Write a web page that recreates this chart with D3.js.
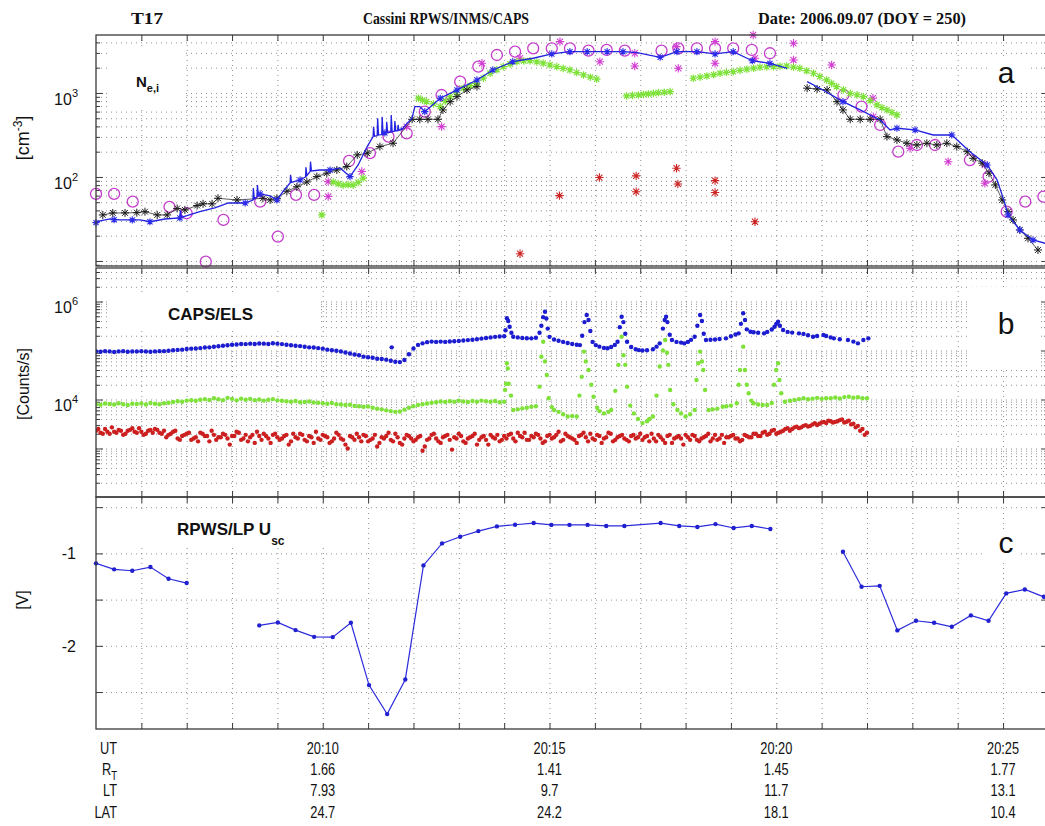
<!DOCTYPE html>
<html>
<head>
<meta charset="utf-8">
<script src="https://cdn.jsdelivr.net/npm/d3@7/dist/d3.min.js"></script>
<style>
html,body{margin:0;padding:0;background:#fff;}
svg{display:block;font-family:"Liberation Sans",Arial,Helvetica,sans-serif;}
.grid line{stroke:#858585;stroke-width:0.9;stroke-dasharray:1,4;}
.grid path,.tk path{display:none;}
.tk line{stroke:#3a3a3a;stroke-width:1;}
</style>
</head>
<body>
<svg id="chart" width="1045" height="826"></svg>
<script>
// ================= DATA (time = minutes after 20:00 UT) =================
const utTickMinutes = [10, 15, 20, 25];
const utLabels  = ["20:10", "20:15", "20:20", "20:25"];
const rtLabels  = ["1.66", "1.41", "1.45", "1.77"];
const ltLabels  = ["7.93", "9.7", "11.7", "13.1"];
const latLabels = ["24.7", "24.2", "18.1", "10.4"];
const minuteTicks = [6,7,8,9,10,11,12,13,14,15,16,17,18,19,20,21,22,23,24,25];

// panel a : densities [cm^-3]
const densityLabelTicks = [100, 1000];
const rpwsLine = [[5.00,28.6],[5.09,30.0],[5.31,31.6],[5.53,30.8],[5.75,30.8],[5.97,30.8],[6.19,29.3],[6.52,31.6],[6.85,32.5],[6.86,40],[6.88,33],
 [7.29,38.6],[7.62,42.8],[7.92,49.0],[8.29,49.0],[8.46,53.2],[8.47,74],[8.49,55],[8.55,58],[8.56,80],[8.58,60],[8.62,62.8],[8.84,59.4],[8.99,53.2],
 [9.15,70],[9.28,84.7],[9.29,106],[9.31,86],[9.50,92.1],[9.62,100],[9.63,130],[9.65,104],[9.72,116],[9.73,152],[9.75,118],[9.94,121],[10.16,121],
 [10.38,128],[10.60,101],[10.78,139],[10.98,230],[11.11,302],[11.12,397],[11.14,305],[11.20,310],[11.21,500],[11.23,315],[11.30,320],[11.31,522],
 [11.33,325],[11.37,334],[11.40,335],[11.41,455],[11.43,338],[11.50,342],[11.51,547],[11.53,345],[11.58,350],[11.59,462],[11.61,352],[11.65,355],
 [11.66,416],[11.68,358],[11.72,363],[11.73,380],[11.75,368],[11.81,405],[11.97,504],[12.03,687],[12.14,687],[12.25,599],[12.59,865],[12.96,1086],
 [13.40,1428],[13.75,1878],[14.19,2357],[14.64,2590],[15.05,2914],[15.45,3100],[15.83,3100],[16.27,3100],[16.62,3100],[16.93,3020],[17.44,2660],
 [17.81,3100],[18.10,3100],[18.25,3100],[18.65,2914],[19.05,3100],[19.47,2420],[19.86,2250],[20.24,1965],null,
 [20.68,1364],[20.96,1137],[21.47,788],[21.85,628],[22.29,477],[22.51,363],[22.66,380],[23.06,363],[23.46,316],[23.87,316],[24.27,200],[24.65,139],
 [24.87,92.1],[25.04,48.5],[25.11,35.3],[25.37,23.4],[25.66,17.8],[25.93,16.2]];
const rpwsMarkers = [[5.00,28.6],[5.40,31],[5.80,30.8],[6.19,29.3],[6.85,32.5],[8.29,49],[8.62,62.8],[8.99,53.2],[9.50,92.1],[10.16,121],[10.60,101],
 [11.37,334],[12.25,599],[12.59,865],[12.96,1086],[13.40,1428],[13.75,1878],[14.19,2357],[15.05,2914],[15.45,3100],[15.83,3100],[16.27,3100],
 [16.62,3100],[17.44,2660],[17.81,3100],[18.25,3100],[18.65,2914],[19.05,3100],[19.47,2420],[19.86,2250],[21.47,788],[22.66,380],[23.06,363],
 [23.87,316],[24.65,139],[25.11,35.3],[25.37,23.4],[25.66,17.8]];
const blackSeries = [[5.15,35.3],[5.37,37.3],[5.64,37.3],[5.90,37.6],[6.08,38.6],[6.35,35.3],[6.57,35.3],[6.79,42.2],[6.96,40.5],[7.23,45.7],[7.36,47.9],
 [7.56,47.9],[7.69,55.7],[8.11,53.2],[8.68,55.7],[8.84,53.2],[8.99,55.7],[9.21,67.5],[9.43,76.5],[9.65,87.2],[9.87,101],[10.09,111],[10.31,121],
 [10.53,133],[10.76,183],[10.98,192],[11.26,230],[11.55,252],[11.97,486],[12.14,486],[12.32,486],[12.54,486],[12.65,628],[12.81,788],[12.96,904],
 [13.18,1086],[13.40,1190],null,
 [20.68,1140],[20.90,1116],[21.12,1086],[21.34,788],[21.47,628],[21.63,486],[21.85,486],[22.07,486],[22.29,486],[22.44,302],[22.66,276],[22.88,252],
 [23.10,240],[23.32,252],[23.54,240],[23.76,252],[23.98,230],[24.21,200],[24.34,167],[24.54,146],[24.69,111],[24.83,80.4],[24.98,53.2],[25.11,38.6],
 [25.22,30.8],[25.37,23.4],[25.55,18.6],[25.77,13.5]];
const magentaCircles = [[5.00,62.8],[5.40,62.8],[5.81,50.8],[6.62,44.0],[7.00,37.0],[7.42,9.8],[7.81,30.8],[8.62,50.8],[9.01,19.5],[9.41,61.1],[9.81,61.1],
 [10.58,155],[11.04,192],[11.45,302],[11.85,331],[12.25,599],[12.62,946],[13.03,1363],[13.43,2060],[13.84,2830],[14.24,3100],[14.64,3400],[15.05,3400],
 [15.45,3400],[15.86,3190],[16.26,3250],[16.66,3190],[17.47,3190],[17.84,3400],[18.25,3400],[18.65,3400],[19.05,3400],[19.46,3250],[19.86,2970],
 [21.48,946],[21.88,687],[22.29,416],[22.69,200],[23.10,240],[23.50,240],[24.27,159],[24.68,101],[25.08,38.6],[25.49,50.8],[25.89,58.3]];
const magentaStars = [[10.12,88],[10.12,58.5],[10.86,116],[11.85,397],[12.62,397],[13.51,2260],[14.35,2590],[15.23,4080],[16.11,2357],[16.88,2970],
 [16.88,2095],[17.80,3560],[17.84,1965],[18.65,4080],[18.65,2260],[19.49,4900],[19.53,2590],[20.38,3900],[20.38,2470],[21.22,2150],[22.13,865],
 [22.14,522],[22.95,220],[23.79,152],[24.60,139],[24.60,84]];
const greenStars = [[9.98,35.3],[10.23,87],[10.34,83],[10.45,80],[10.56,81],[10.67,80],[10.78,86],[10.89,97],
 [12.11,865],[12.20,820],[12.29,788],[12.44,740],[12.59,687],[12.70,800],[12.81,904],[12.95,1010],[13.10,1137],[13.25,1220],[13.39,1304],[13.54,1500],
 [13.69,1716],[13.84,1890],[13.98,2060],[14.13,2210],[14.28,2357],[14.43,2400],[14.57,2420],[14.72,2340],[14.86,2260],[15.01,2150],[15.16,2060],
 [15.30,1960],[15.45,1878],[15.60,1750],[15.75,1638],[15.90,1540],[16.04,1460],
 [16.70,921],[16.83,935],[16.96,946],[17.07,960],[17.18,973],[17.29,990],[17.40,1010],[17.53,1020],[17.66,1036],
 [18.17,1496],[18.32,1545],[18.47,1593],[18.62,1650],[18.76,1716],[18.90,1755],[19.05,1795],[19.20,1855],[19.35,1917],[19.50,1970],[19.64,2024],
 [19.79,2040],[19.94,2060],[20.08,2080],[20.23,2095],[20.38,2030],[20.52,1965],[20.67,1840],[20.82,1716],[20.96,1570],[21.11,1428],[21.22,1300],
 [21.33,1190],[21.48,1090],[21.63,991],[21.78,950],[21.92,904],[22.07,810],[22.22,720],[22.33,670],[22.44,628],[22.55,585],[22.66,547]];
const redStars = [[14.35,12.2],[15.22,59.9],[16.10,98.4],[16.91,103],[16.91,66.8],[17.80,127],[17.83,82.6],[18.65,90.4],[18.65,65.3],[19.53,29.3]];

// panel b : CAPS/ELS counts/s (values in thousands)
const countLabelTicks = [1e4, 1e6];
const elsBlue = [[5.0,96],[5.1,94],[5.2,97],[5.3,96],[5.4,93],[5.5,96],[5.6,97],[5.7,94],[5.8,96],[5.9,96],[6.0,97],[6.1,96],[6.2,94],[6.3,96],[6.4,97],
 [6.5,97],[6.6,99],[6.7,101],[6.8,103],[6.9,104],[7.0,107],[7.1,109],[7.2,110],[7.3,112],[7.4,115],[7.5,116],[7.6,119],[7.7,122],[7.8,125],[7.9,128],
 [8.0,131],[8.1,133],[8.2,136],[8.3,135],[8.4,138],[8.5,136],[8.6,139],[8.7,138],[8.8,136],[8.9,141],[9.0,138],[9.1,135],[9.2,131],[9.3,128],[9.4,125],
 [9.5,123],[9.6,119],[9.7,116],[9.8,115],[9.9,112],[10.0,109],[10.1,104],[10.2,101],[10.3,99],[10.4,96],[10.5,91],[10.6,87],[10.7,83],[10.8,80],
 [10.9,75],[11.0,73],[11.1,71],[11.2,68],[11.3,67],[11.4,65],[11.5,62],[11.52,116],[11.6,59],[11.7,58],[11.8,64],[11.9,84],[12.0,110],[12.1,130],
 [12.2,140],[12.3,148],[12.4,152],[12.5,150],[12.6,152],[12.7,150],[12.8,153],[12.9,155],[13.0,157],[13.1,160],[13.2,163],[13.3,166],[13.4,170],
 [13.5,175],[13.6,180],[13.7,185],[13.8,190],[13.9,193],[14.0,196],[14.03,260],[14.06,454],[14.09,400],[14.12,306],[14.16,230],[14.2,191],[14.3,185],
 [14.4,180],[14.5,178],[14.6,177],
 [14.7,182],[14.78,230],[14.82,320],[14.86,480],[14.90,619],[14.93,450],[14.96,280],[15.0,190],[15.1,168],[15.2,158],[15.3,150],[15.4,142],[15.5,136],
 [15.6,131],[15.67,129],[15.72,200],[15.77,380],[15.82,530],[15.86,420],[15.9,250],[15.95,150],[16.02,129],[16.1,120],[16.2,113],[16.28,111],
 [16.36,118],[16.44,130],[16.5,151],[16.55,300],[16.59,489],[16.63,380],[16.67,220],[16.71,151],[16.8,118],[16.9,106],[16.97,102],[17.05,100],
 [17.15,101],[17.28,106],[17.36,120],[17.43,140],[17.5,280],[17.54,420],[17.57,489],[17.6,380],[17.65,210],[17.7,164],[17.8,150],[17.9,145],
 [17.97,140],[18.05,150],[18.12,165],[18.2,191],[18.26,320],[18.32,530],[18.36,400],[18.4,220],[18.45,164],[18.55,166],[18.65,168],[18.75,172],
 [18.89,177],[19.0,195],[19.1,212],[19.17,224],[19.22,350],[19.27,574],[19.31,420],[19.35,270],[19.43,242],[19.5,236],[19.6,230],[19.73,224],
 [19.8,240],[19.9,268],[19.96,306],[20.0,350],[20.04,387],[20.08,320],[20.15,262],[20.25,240],[20.35,232],[20.5,224],[20.6,218],[20.7,205],
 [20.81,191],[20.9,198],[21.04,207],[21.1,198],[21.2,185],[21.27,177],[21.4,170],[21.58,164],[21.7,152],[21.8,140],[21.92,164],[22.03,177]];
const elsGreen = [[5.0,8.0],[5.1,7.8],[5.2,8.3],[5.3,8.1],[5.4,7.9],[5.5,8.4],[5.6,8.0],[5.7,7.7],[5.8,8.2],[5.9,8.1],[6.0,8.3],[6.1,7.9],[6.2,8.5],
 [6.3,8.2],[6.4,8.0],[6.5,8.4],[6.6,8.6],[6.7,8.9],[6.8,9.2],[6.9,9.0],[7.0,9.5],[7.1,9.7],[7.2,9.4],[7.3,9.9],[7.4,10.2],[7.5,9.8],[7.6,10.6],
 [7.7,10.1],[7.8,9.7],[7.9,10.8],[8.0,10.3],[8.1,9.6],[8.2,10.4],[8.3,9.9],[8.4,10.3],[8.5,9.7],[8.6,10.0],[8.7,9.5],[8.8,9.9],[8.9,10.2],[9.0,9.6],
 [9.1,9.4],[9.2,9.2],[9.3,9.0],[9.4,9.3],[9.5,8.8],[9.6,8.9],[9.7,9.1],[9.8,8.7],[9.9,8.6],[10.0,8.4],[10.1,8.2],[10.2,8.5],[10.3,8.0],[10.4,7.9],
 [10.5,7.7],[10.6,7.8],[10.7,7.4],[10.8,7.3],[10.9,7.1],[11.0,7.2],[11.1,6.8],[11.2,6.5],[11.3,6.3],[11.4,6.0],[11.5,5.8],[11.6,5.6],[11.7,5.7],
 [11.8,6.2],[11.9,6.8],[12.0,7.3],[12.1,7.7],[12.2,8.0],[12.3,8.3],[12.4,8.6],[12.5,8.8],[12.6,9.1],[12.7,8.9],[12.8,9.2],[12.9,9.0],[13.0,9.4],
 [13.1,9.1],[13.2,8.9],[13.3,9.3],[13.4,9.0],[13.5,9.5],[13.6,9.2],[13.7,9.0],[13.8,9.3],[13.9,8.8],[14.0,9.0],
 [14.02,15.6],[14.04,21],[14.06,55],[14.08,43],[14.10,21],[14.15,12],[14.2,6.1],[14.3,6.3],[14.4,6.6],[14.5,6.8],[14.6,7.1],[14.7,7.3],[14.78,18.3],
 [14.82,75],[14.86,151],[14.90,60],[14.94,31.6],[14.98,10.6],[15.05,7.0],[15.1,6.1],[15.2,5.6],[15.3,5.0],[15.4,4.5],[15.5,4.6],[15.6,4.5],[15.66,12],
 [15.71,29],[15.76,95],[15.80,60],[15.86,40],[15.92,20],[15.97,11.4],[16.05,6.8],[16.1,5.8],[16.2,5.2],[16.3,5.6],[16.36,6.1],[16.45,15],[16.52,51],
 [16.59,191],[16.63,80],[16.67,51],[16.71,18.3],[16.78,7.5],[16.86,5.2],[16.95,4.0],[17.05,3.3],[17.15,3.6],[17.2,4.0],[17.28,4.5],[17.36,12],
 [17.43,47],[17.5,100],[17.55,164],[17.59,90],[17.62,51],[17.66,15.6],[17.73,8.0],[17.82,6.1],[17.9,5.2],[18.0,4.5],[18.1,5.0],[18.2,6.1],
 [18.24,25],[18.28,55],[18.32,95],[18.36,60],[18.39,40],[18.43,15.6],[18.51,6.1],[18.6,6.3],[18.7,6.5],[18.82,7.1],[18.9,7.3],[19.0,7.5],[19.13,8.4],
 [19.17,20],[19.2,40],[19.27,120],[19.31,40],[19.35,20],[19.39,13.4],[19.45,9.5],[19.5,8.4],[19.6,7.9],[19.7,7.7],[19.8,7.7],[19.9,8.5],[19.95,20],
 [20.0,40],[20.04,55],[20.07,25],[20.11,13.4],[20.19,9.0],[20.3,9.4],[20.4,9.8],[20.5,10.2],[20.6,10.6],[20.7,10.1],[20.8,10.4],[20.9,10.8],
 [21.0,10.3],[21.1,10.6],[21.2,10.6],[21.3,11.0],[21.4,10.5],[21.5,11.2],[21.6,11.4],[21.7,10.9],[21.8,11.1],[21.9,10.6],[22.0,10.6]];
// red channel: two interleaved sample sets, every 0.1 min starting 20:05.00 and 20:05.05
const elsRedStart = 5.0, elsRed2Start = 5.05, elsRedStep = 0.1;
const elsRed = [2.3,2.1,2.5,2.0,2.2,2.4,1.9,2.3,2.6,2.1,2.2,2.0,2.4,2.5,2.1,2.3,
 1.9,2.2,1.6,1.8,2.0,1.5,1.7,2.1,1.8,1.4,1.9,1.7,2.0,1.6,1.8,2.2,1.5,1.9,1.7,1.3,1.8,2.0,1.6,1.9,1.7,
 1.6,1.9,1.4,1.7,2.0,1.5,1.8,1.3,1.6,1.9,1.7,1.4,2.1,1.6,1.2,1.8,1.5,1.7,1.9,1.4,1.6,1.1,1.7,1.8,1.5,2.0,1.3,1.6,1.8,1.4,
 1.7,0.9,1.5,1.9,1.6,1.3,1.8,1.5,1.7,2.0,1.4,1.6,1.8,1.2,1.7,1.5,1.9,1.6,1.4,1.8,
 1.9,1.6,2.1,1.7,1.5,1.8,2.0,1.6,1.4,1.9,1.7,2.2,1.5,1.8,1.6,1.3,1.9,1.7,2.0,1.5,1.8,1.6,2.1,1.4,1.7,1.9,1.5,1.8,1.6,2.0,
 1.7,1.4,1.6,1.9,1.5,1.8,1.3,1.7,1.6,1.9,1.5,1.8,1.4,1.7,2.0,1.6,1.5,1.9,1.7,1.8,1.6,1.4,1.9,1.7,2.0,
 1.8,2.1,1.9,2.3,2.0,2.2,2.5,2.3,2.7,2.6,2.9,2.8,3.1,3.0,3.4,3.3,3.6,3.5,3.8,3.4,3.7,3.2,2.9,2.5,2.1];
const elsRed2 = [2.5,2.0,2.2,2.7,2.1,2.3,2.0,2.4,2.2,2.6,1.9,2.3,2.1,2.4,2.0,
 1.7,2.0,2.3,1.5,1.9,2.1,1.6,1.4,2.0,1.8,2.3,1.5,1.7,1.9,1.2,1.8,2.1,1.6,1.4,1.9,2.2,1.5,1.8,1.3,2.0,
 1.5,1.8,1.2,2.0,1.6,1.9,1.4,1.7,2.2,1.5,1.8,1.3,1.6,1.9,1.5,1.0,1.7,2.0,1.4,1.8,1.5,1.9,1.3,1.6,2.1,1.4,1.7,1.2,1.9,1.6,
 1.5,1.8,1.1,1.6,2.0,1.4,1.7,1.9,0.95,1.6,1.8,1.3,1.7,2.0,1.5,1.8,1.2,1.7,1.9,1.5,
 1.6,2.0,1.4,1.8,2.1,1.5,1.7,1.9,1.3,1.8,1.6,1.9,1.4,2.0,1.7,1.5,1.8,2.1,1.4,1.6,1.9,1.3,1.7,2.0,1.5,1.8,1.6,1.4,1.9,1.7,
 1.5,1.8,2.0,1.4,1.7,1.3,1.9,1.6,1.8,1.2,1.7,1.9,1.5,1.6,1.8,1.4,1.9,1.6,1.3,1.7,1.9,1.6,1.5,1.8,1.7,
 2.0,1.8,2.2,2.0,2.4,2.1,2.3,2.6,2.5,2.8,2.7,3.0,2.9,3.3,3.2,3.5,3.7,3.4,3.6,3.9,3.5,3.1,2.7,2.3,1.9];

// panel c : RPWS/LP spacecraft potential [V]
const uscLabelTicks = [-1, -2];
const uscSeries = [[5.0,-1.108],[5.4,-1.173],[5.8,-1.188],[6.2,-1.148],[6.6,-1.275],[7.0,-1.321],null,
 [8.60,-1.779],[9.01,-1.747],[9.40,-1.830],[9.81,-1.903],[10.22,-1.906],[10.62,-1.751],[11.02,-2.425],[11.42,-2.739],[11.82,-2.364],[12.22,-1.130],
 [12.63,-0.892],[13.03,-0.820],[13.43,-0.759],[13.84,-0.708],[14.24,-0.690],[14.65,-0.672],[15.04,-0.692],[15.44,-0.692],[15.84,-0.692],[16.25,-0.703],
 [16.65,-0.703],[17.45,-0.672],[17.86,-0.703],[18.26,-0.714],[18.66,-0.683],[19.06,-0.725],[19.46,-0.703],[19.87,-0.736],null,
 [21.47,-0.983],[21.88,-1.361],[22.28,-1.351],[22.67,-1.833],[23.08,-1.729],[23.48,-1.751],[23.87,-1.794],[24.29,-1.671],[24.68,-1.729],
 [25.07,-1.433],[25.48,-1.390],[25.90,-1.470]];

// ================= CHART =================
const svg = d3.select("#chart");
const X0 = 96, X1 = 1048.4;
const x = d3.scaleLinear().domain([5, 26]).range([X0, X1]);

const P = {
  a: {top: 35, bottom: 266},
  b: {top: 268, bottom: 497},
  c: {top: 497, bottom: 729}
};
const yA = d3.scaleLog().domain([Math.pow(10, 0.94), Math.pow(10, 3.69)]).range([P.a.bottom, P.a.top]);
const yB = d3.scaleLog().domain([Math.pow(10, 2.01), Math.pow(10, 6.684)]).range([P.b.bottom, P.b.top]);
const yC = d3.scaleLinear().domain([-2.9, -0.39]).range([P.c.bottom, P.c.top]);

function logTicks(scale) {
  const [d0, d1] = scale.domain();
  const major = [], minor = [];
  for (let e = Math.floor(Math.log10(d0)); e <= Math.ceil(Math.log10(d1)); e++) {
    for (let m = 1; m <= 9; m++) {
      const v = m * Math.pow(10, e);
      if (v >= d0 && v <= d1) (m === 1 ? major : minor).push(v);
    }
  }
  return {major, minor};
}

function panelFrame(p, yScale, yMajor, yMinor, boxes) {
  const h = p.bottom - p.top;
  svg.append("g").attr("class", "grid").attr("transform", `translate(0,${p.bottom})`)
    .call(d3.axisBottom(x).tickValues(minuteTicks).tickSize(-h).tickFormat(""));
  svg.append("g").attr("class", "grid").attr("transform", `translate(${X0},0)`)
    .call(d3.axisLeft(yScale).tickValues(yMajor.concat(yMinor)).tickSize(-(X1 - X0)).tickFormat(""));
  boxes.forEach(b => svg.append("rect").attr("x", b[0]).attr("y", b[1]).attr("width", b[2] - b[0]).attr("height", b[3] - b[1]).attr("fill", "#fff"));
  const tk = (gen, tr) => svg.append("g").attr("class", "tk").attr("transform", tr).call(gen);
  tk(d3.axisBottom(x).tickValues(minuteTicks).tickSize(-6).tickFormat(""), `translate(0,${p.bottom})`);
  tk(d3.axisTop(x).tickValues(minuteTicks).tickSize(-6).tickFormat(""), `translate(0,${p.top})`);
  tk(d3.axisLeft(yScale).tickValues(yMajor).tickSize(-7).tickFormat(""), `translate(${X0},0)`);
  tk(d3.axisRight(yScale).tickValues(yMajor).tickSize(-7).tickFormat(""), `translate(${X1},0)`);
  if (yMinor.length) {
    tk(d3.axisLeft(yScale).tickValues(yMinor).tickSize(-4).tickFormat(""), `translate(${X0},0)`);
    tk(d3.axisRight(yScale).tickValues(yMinor).tickSize(-4).tickFormat(""), `translate(${X1},0)`);
  }
}

const ta = logTicks(yA), tb = logTicks(yB);
panelFrame(P.a, yA, ta.major, ta.minor, [[110, 47, 182, 108], [990, 58, 1030, 90]]);
panelFrame(P.b, yB, tb.major, tb.minor, [[110, 295, 320, 330], [970, 287, 1041, 369]]);
panelFrame(P.c, yC, [-0.5, -1, -1.5, -2, -2.5], [], [[105, 509, 335, 546], [983, 530, 1021, 560]]);

const defs = svg.append("defs");
Object.entries(P).forEach(([k, p]) => {
  defs.append("clipPath").attr("id", "clip" + k).append("rect")
    .attr("x", X0).attr("y", p.top).attr("width", X1 - X0).attr("height", p.bottom - p.top);
});

function starPath(s) {
  const k = s * 0.72;
  return `M${-s},0L${s},0M0,${-s}L0,${s}M${-k},${-k}L${k},${k}M${-k},${k}L${k},${-k}`;
}
function stars(data, ys, color, size, width) {
  svg.append("g").selectAll("path").data(data.filter(d => d)).join("path")
    .attr("transform", d => `translate(${x(d[0])},${ys(d[1])})`)
    .attr("d", starPath(size)).attr("stroke", color).attr("stroke-width", width || 1).attr("fill", "none");
}

// ---- panel a ----
const lineA = d3.line().defined(d => d).x(d => x(d[0])).y(d => yA(d[1]));
svg.append("g").selectAll("circle").data(magentaCircles).join("circle")
  .attr("cx", d => x(d[0])).attr("cy", d => yA(d[1])).attr("r", 5.5)
  .attr("fill", "none").attr("stroke", "#c43ccc").attr("stroke-width", 1.3);
stars(magentaStars, yA, "#d23fd2", 4.2, 1.1);
stars(greenStars, yA, "#7ee23a", 3.8, 1.2);
stars(redStars, yA, "#cc2424", 4.2, 1.1);
svg.append("path").datum(blackSeries).attr("d", lineA).attr("fill", "none")
  .attr("stroke", "#333").attr("stroke-width", 0.8).attr("clip-path", "url(#clipa)");
stars(blackSeries, yA, "#1a1a1a", 4.0, 1.0);
svg.append("path").datum(rpwsLine).attr("d", lineA).attr("fill", "none")
  .attr("stroke", "#2222e0").attr("stroke-width", 1.3).attr("clip-path", "url(#clipa)");
stars(rpwsMarkers, yA, "#2a2ae8", 3.6, 1.1);

// ---- panel b ----
function dots(data, color) {
  svg.append("g").attr("clip-path", "url(#clipb)").selectAll("circle").data(data).join("circle")
    .attr("cx", d => x(d[0])).attr("cy", d => yB(d[1] * 1000)).attr("r", 2.2).attr("fill", color);
}
dots(elsRed.map((v, i) => [elsRedStart + i * elsRedStep, v]), "#cc2020");
dots(elsRed2.map((v, i) => [elsRed2Start + i * elsRedStep, v]), "#cc2020");
dots(elsGreen, "#7ee23a");
dots(elsBlue, "#1c1cd0");

// ---- panel c ----
const lineC = d3.line().defined(d => d).x(d => x(d[0])).y(d => yC(d[1]));
svg.append("path").datum(uscSeries).attr("d", lineC).attr("fill", "none")
  .attr("stroke", "#2b2bdc").attr("stroke-width", 1.2).attr("clip-path", "url(#clipc)");
svg.append("g").selectAll("circle").data(uscSeries.filter(d => d)).join("circle")
  .attr("cx", d => x(d[0])).attr("cy", d => yC(d[1])).attr("r", 2.2).attr("fill", "#2020d0");

// ---- frames ----
Object.values(P).forEach(p => {
  svg.append("rect").attr("x", X0).attr("y", p.top).attr("width", X1 - X0).attr("height", p.bottom - p.top)
    .attr("fill", "none").attr("stroke", "#3a3a3a").attr("stroke-width", 1.3);
});

// ---- tick labels ----
function powLabel(v, ys, dyBase) {
  const t = svg.append("text").attr("x", 78).attr("y", ys(v) + dyBase).attr("text-anchor", "end")
    .attr("font-size", 16).attr("fill", "#111");
  t.append("tspan").text("10");
  t.append("tspan").attr("dy", -8).attr("font-size", 11).text(String(Math.round(Math.log10(v))));
}
densityLabelTicks.forEach(v => powLabel(v, yA, 12));
countLabelTicks.forEach(v => powLabel(v, yB, 11));
uscLabelTicks.forEach(v => svg.append("text").attr("x", 76).attr("y", yC(v) + 6).attr("text-anchor", "end")
  .attr("font-size", 16).attr("fill", "#111").text(String(v)));

// ---- y titles ----
function yTitle(cx, cy, parts, size) {
  const t = svg.append("text").attr("transform", `translate(${cx},${cy}) rotate(-90)`).attr("text-anchor", "middle")
    .attr("font-size", size).attr("fill", "#111");
  parts.forEach(p => {
    const s = t.append("tspan").text(p.t);
    if (p.dy) s.attr("dy", p.dy);
    if (p.fs) s.attr("font-size", p.fs);
  });
}
yTitle(29, 138, [{t: "[cm"}, {t: "-3", dy: -7, fs: 12}, {t: "]", dy: 7}], 18);
yTitle(29, 384, [{t: "[Counts/s]"}], 16);
yTitle(28, 600, [{t: "[V]"}], 16);

// ---- panel labels ----
const lab = (xx, yy, txt, fs, fw) => svg.append("text").attr("x", xx).attr("y", yy).attr("font-size", fs)
  .attr("font-weight", fw || "normal").attr("fill", "#111").text(txt);
{
  const t = svg.append("text").attr("x", 136).attr("y", 87).attr("font-weight", "bold").attr("font-size", 15).attr("fill", "#111");
  t.append("tspan").text("N");
  t.append("tspan").attr("dy", 5).attr("font-size", 11).text("e,i");
}
lab(168, 320, "CAPS/ELS", 17, "bold");
{
  const t = svg.append("text").attr("x", 177).attr("y", 535).attr("font-weight", "bold").attr("font-size", 17).attr("fill", "#111");
  t.append("tspan").text("RPWS/LP U");
  t.append("tspan").attr("dy", 10).attr("font-size", 12).text("sc");
}
[["a", 83], ["b", 334], ["c", 553]].forEach(([s, yy]) =>
  svg.append("text").attr("x", 1006).attr("y", yy).attr("text-anchor", "middle").attr("font-size", 30).attr("fill", "#111").text(s));

// ---- header ----
const head = (xx, txt, w) => svg.append("text").attr("x", xx).attr("y", 24)
  .attr("font-family", "'Liberation Serif','Times New Roman',serif").attr("font-weight", "bold").attr("font-size", 17)
  .attr("textLength", w).attr("lengthAdjust", "spacingAndGlyphs").attr("fill", "#111").text(txt);
head(131, "T17", 32);
head(363, "Cassini RPWS/INMS/CAPS", 166);
head(758, "Date: 2006.09.07 (DOY = 250)", 208);

// ---- bottom ephemeris table ----
const rowsY = [754, 775, 796, 818];
const narrow = (xx, yy, anchor) => svg.append("text")
  .attr("transform", `translate(${xx},${yy}) scale(0.8,1)`).attr("text-anchor", anchor)
  .attr("font-size", 16).attr("fill", "#111");
[utLabels, rtLabels, ltLabels, latLabels].forEach((row, r) => {
  row.forEach((s, i) => narrow(x(utTickMinutes[i]), rowsY[r], "middle").text(s));
});
narrow(117, rowsY[0], "end").text("UT");
{
  const t = narrow(117, rowsY[1], "end");
  t.append("tspan").text("R");
  t.append("tspan").attr("dy", 5).attr("font-size", 12).text("T");
}
narrow(117, rowsY[2], "end").text("LT");
narrow(117, rowsY[3], "end").text("LAT");
</script>
</body>
</html>
